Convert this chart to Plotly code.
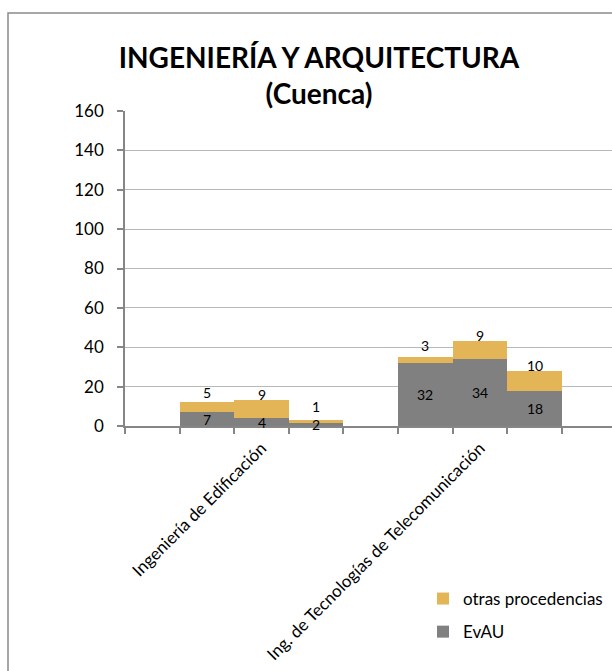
import plotly.graph_objects as go

# ---- data ----
programs = ["Ingeniería de Edificación", "Ing. de Tecnologías de Telecomunicación"]
evau = [[7, 4, 2], [32, 34, 18]]
otras = [[5, 9, 1], [3, 9, 10]]
series_names = ["EvAU", "otras procedencias"]
y_ticks = [0, 20, 40, 60, 80, 100, 120, 140, 160]
title_lines = ["INGENIERÍA Y ARQUITECTURA", "(Cuenca)"]

# ---- layout of slots: one empty slot before each group of 3 bars ----
xs, ev_flat, ot_flat, label_pos = [], [], [], []
for g, (ev_g, ot_g) in enumerate(zip(evau, otras)):
    start = g * (len(ev_g) + 1) + 2
    for j, (e, o) in enumerate(zip(ev_g, ot_g)):
        xs.append(start + j)
        ev_flat.append(e)
        ot_flat.append(o)
    label_pos.append(start + (len(ev_g) - 1) / 2)

FONT = "Lato, 'Open Sans', sans-serif"
GRAY = "#808080"
GOLD = "#E4B557"

fig = go.Figure()
fig.add_trace(go.Bar(x=xs, y=ev_flat, name=series_names[0], marker_color=GRAY,
                     marker_line_width=0, width=1, legendgroup="a", legendrank=2))
fig.add_trace(go.Bar(x=xs, y=ot_flat, name=series_names[1], marker_color=GOLD,
                     marker_line_width=0, width=1, legendgroup="b", legendrank=1))

annotations = []
for x, e, o in zip(xs, ev_flat, ot_flat):
    annotations.append(dict(x=x, y=e / 2, text=str(e), showarrow=False,
                            font=dict(size=14, color="#000", family=FONT)))
    annotations.append(dict(x=x, y=e + o / 2, text=str(o), showarrow=False, yshift=15,
                            font=dict(size=14, color="#000", family=FONT)))

W, H = 612, 671
ml, mt, mb = 125, 111, 245
pw = W - ml
ph = H - mt - mb
slot_px = 54.6

fig.update_layout(
    width=W, height=H,
    barmode="stack",
    bargap=0,
    plot_bgcolor="white", paper_bgcolor="white",
    margin=dict(l=ml, r=0, t=mt, b=mb, pad=0),
    font=dict(family=FONT, size=17, color="#000"),
    title=dict(text="<b>" + "<br>".join(title_lines) + "</b>",
               x=319 / W, xanchor="center", xref="container",
               y=1 - 68 / H, yanchor="top", yref="container",
               font=dict(size=28, family=FONT, color="#000")),
    showlegend=True,
    legend=dict(x=(423 - ml) / pw, xanchor="left", y=(H - mb - 581) / ph, yanchor="top",
                traceorder="grouped", tracegroupgap=8,
                itemwidth=30, font=dict(size=17, family=FONT, color="#000"),
                bgcolor="rgba(0,0,0,0)"),
    annotations=annotations,
    xaxis=dict(range=[0.5, 0.5 + pw / slot_px], tickmode="array", tickvals=label_pos,
               ticktext=programs, tickangle=-45, ticks="", showgrid=False,
               showline=True, linecolor="#868686", linewidth=1.5, zeroline=False,
               ticklabelstandoff=4,
               tickfont=dict(size=17, family=FONT, color="#000"),
               minor=dict(ticks="outside", tick0=0.5, dtick=1, ticklen=6,
                          tickcolor="#868686", tickwidth=1.5, showgrid=False)),
    yaxis=dict(range=[0, 160], tickmode="array", tickvals=y_ticks,
               ticks="outside", ticklen=6, tickcolor="#868686", tickwidth=1.5,
               ticklabelstandoff=10,
               showline=True, linecolor="#868686", linewidth=1.5,
               showgrid=True, gridcolor="#b8b8b8", gridwidth=1, zeroline=False,
               tickfont=dict(size=17, family=FONT, color="#000")),
    shapes=[dict(type="rect", xref="paper", yref="paper",
                 x0=(8 - ml) / pw, x1=1.2, y0=-1.2, y1=(H - mb - 13) / ph,
                 line=dict(color="#8a8a8a", width=1.5), fillcolor="rgba(0,0,0,0)",
                 layer="above")],
)

fig.write_html("out.html", config={"displayModeBar": False},
               post_script="document.body.style.margin='0';document.body.style.overflow='hidden';")
